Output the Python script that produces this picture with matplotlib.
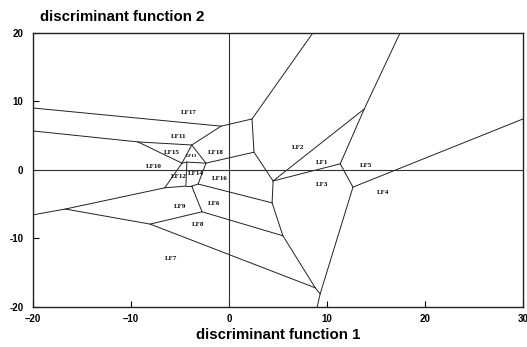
import matplotlib
matplotlib.use("Agg")
import matplotlib.pyplot as plt

# ── Territorial map data (discriminant function space) ───────────────────────

# vertices of the region boundaries
vertex_names = ["Aleft", "A", "B", "Btop", "C", "D", "E", "F", "G1", "G2", "Gbot",
                "H", "Hright", "J", "K", "Ktop", "Lleft", "L", "N", "O", "R", "Q",
                "T", "S", "X", "W", "V", "Vleft", "U", "Z"]
vertex_x = [-20.0, -0.8, 2.35, 8.55, 2.55, 4.5, 4.4, 5.5, 8.8, 9.3, 9.0,
            12.65, 30.0, 11.35, 13.8, 17.45, -20.0, -16.7, -8.05, -2.75, -3.8, -4.4,
            -6.55, -3.15, -2.35, -3.8, -9.3, -20.0, -4.8, -4.3]
vertex_y = [9.05, 6.4, 7.45, 20.0, 2.6, -1.6, -4.8, -9.6, -17.2, -18.1, -20.0,
            -2.5, 7.45, 0.9, 8.9, 20.0, -6.55, -5.7, -7.9, -6.1, -2.35, -2.35,
            -2.6, -2.05, 1.0, 3.65, 4.1, 5.7, 1.0, 1.15]

# boundary segments between groups
edges = [("Aleft", "A"), ("A", "B"), ("B", "Btop"), ("B", "C"), ("C", "X"),
         ("C", "D"), ("D", "E"), ("D", "K"), ("D", "J"), ("J", "K"),
         ("K", "Ktop"), ("J", "H"), ("H", "Hright"), ("H", "G2"), ("G2", "Gbot"),
         ("G1", "G2"), ("F", "G1"), ("E", "F"), ("E", "S"), ("O", "F"),
         ("N", "G1"), ("N", "O"), ("L", "N"), ("Lleft", "L"), ("L", "T"),
         ("T", "Q"), ("Q", "R"), ("R", "S"), ("R", "O"), ("S", "X"),
         ("Z", "Q"), ("U", "T"), ("V", "U"), ("V", "W"), ("Vleft", "V"),
         ("W", "A"), ("W", "X"), ("W", "U"), ("U", "Z"), ("Z", "X")]

# group labels
group_names = ["LF17", "LF11", "LF15", "LF13", "LF18", "LF10", "LF12", "LF14",
               "LF16", "LF9", "LF6", "LF8", "LF7", "LF2", "LF1", "LF5", "LF3", "LF4"]
group_x = [-4.1, -5.1, -5.8, -3.85, -1.3, -7.65, -5.1, -3.35,
           -0.9, -5.0, -1.5, -3.15, -5.9, 7.05, 9.5, 14.0, 9.5, 15.7]
group_y = [8.45, 4.95, 2.5, 2.0, 2.6, 0.45, -1.0, -0.45,
           -1.3, -5.4, -4.95, -8.0, -12.85, 3.35, 1.15, 0.6, -2.05, -3.35]

x_ticks = [-20, -10, 0, 10, 20, 30]
x_ticklabels = ["\u201320", "\u201310", "0", "10", "20", "30"]
y_ticks = [-20, -10, 0, 10, 20]
y_ticklabels = ["-20", "-10", "0", "10", "20"]

# ── Plot ─────────────────────────────────────────────────────────────────────

fig = plt.figure(figsize=(5.27, 3.47), dpi=100)
ax = fig.add_axes([0.0626, 0.1153, 0.9298, 0.7896])

pos = {n: (x, y) for n, x, y in zip(vertex_names, vertex_x, vertex_y)}
for a, b in edges:
    ax.plot([pos[a][0], pos[b][0]], [pos[a][1], pos[b][1]],
            color="#222222", linewidth=0.7, solid_capstyle="round")

# axes through the origin
ax.axhline(0, color="#333333", linewidth=0.8)
ax.axvline(0, color="#333333", linewidth=0.8)

for name, x, y in zip(group_names, group_x, group_y):
    size = 3.6 if name == "LF13" else 5
    ax.text(x, y, name, ha="center", va="center", fontsize=size,
            family="Liberation Serif", fontweight="bold")

ax.set_xlim(-20, 30)
ax.set_ylim(-20, 20)
ax.set_xticks(x_ticks)
ax.set_xticklabels(x_ticklabels)
ax.set_yticks(y_ticks)
ax.set_yticklabels(y_ticklabels)
ax.tick_params(direction="in", length=4, width=0.8, labelsize=7, pad=5)
ax.tick_params(axis="y", pad=7)
for lab in ax.get_xticklabels() + ax.get_yticklabels():
    lab.set_fontweight("bold")
    lab.set_family("Liberation Sans")
for sp in ax.spines.values():
    sp.set_linewidth(1.0)
    sp.set_color("#222222")

fig.text(0.0759, 0.951, "discriminant function 2", ha="left", va="center",
         fontsize=10.8, fontweight="bold", family="Liberation Sans")
fig.text(0.5275, 0.034, "discriminant function 1", ha="center", va="center",
         fontsize=10.8, fontweight="bold", family="Liberation Sans")

fig.savefig("out.png", dpi=100)
